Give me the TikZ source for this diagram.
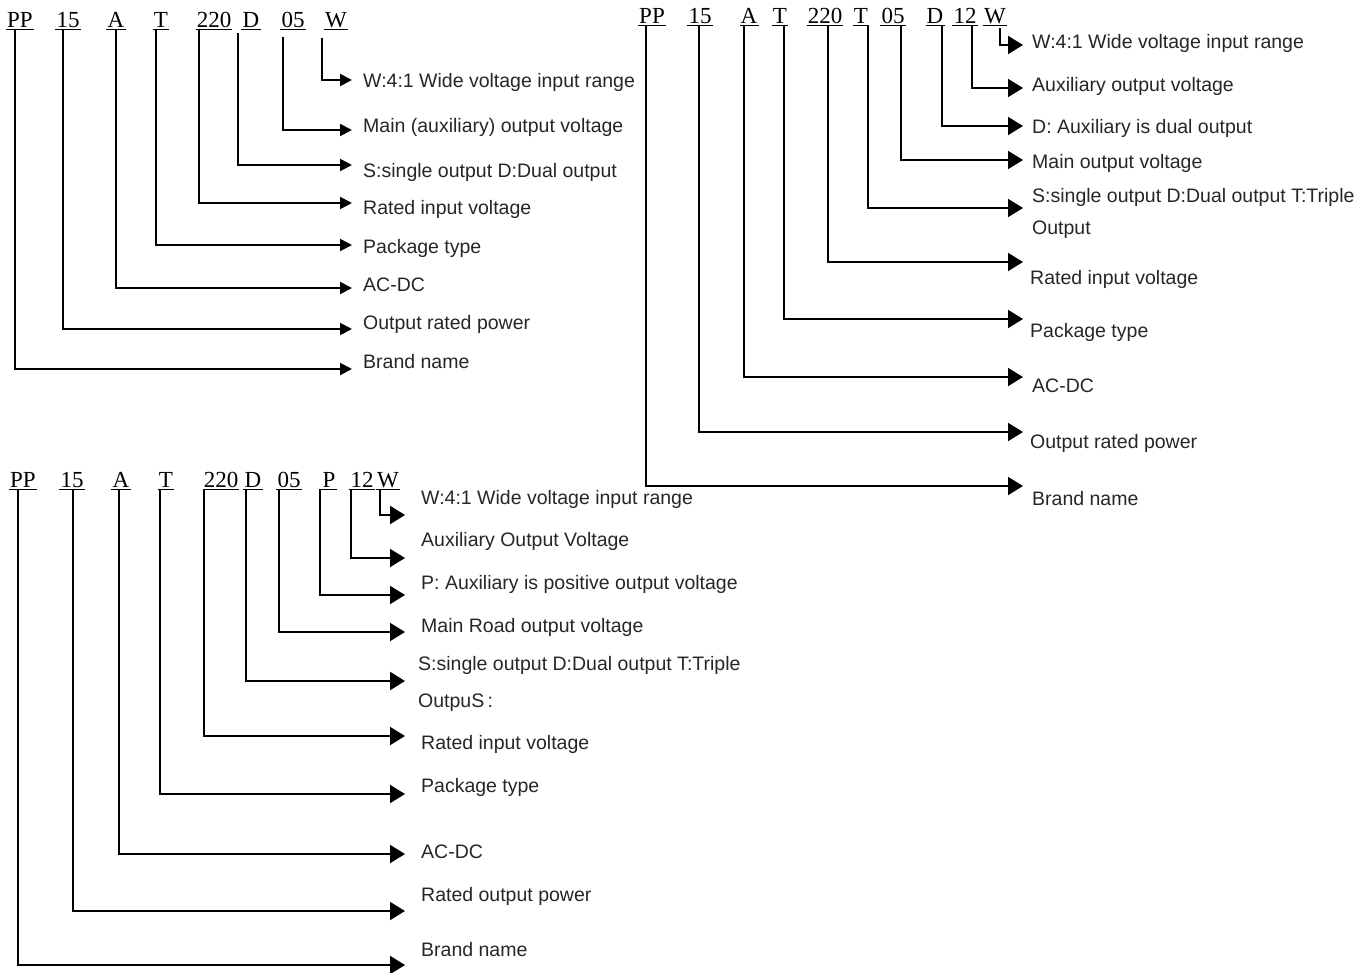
\documentclass[tikz,border=0pt]{standalone}
\usepackage{fontspec}
\setmainfont{Liberation Serif}
\newfontfamily\labelfont{Liberation Sans}
\usetikzlibrary{arrows.meta}

\tikzset{
  code/.style={font=\fontsize{23}{27}\selectfont, inner xsep=1pt, inner ysep=2pt, anchor=base,
    append after command={(\tikzlastnode.south west) edge[line width=1.3pt] (\tikzlastnode.south east)}},
  descbase/.style={font=\labelfont\fontsize{19.5}{24}\selectfont, text=black!85,
    anchor=west, inner xsep=11pt, inner ysep=1pt},
  desc/.style={descbase, text height=14pt, text depth=4pt},
  desctwo/.style={descbase, align=left},
  link/.style={line width=2pt, -{Triangle[length=12pt,width=12pt]}},
  biglink/.style={line width=2pt, -{Triangle[length=15pt,width=18pt]}},
}

\begin{document}
\begin{tikzpicture}[x=1pt,y=-1pt]
\useasboundingbox (0,0) rectangle (1372,972);

% first code: PP15AT220D05W
\node[code] (c1pp) at (20,27) {PP};
\node[code] (c1p) at (68,27) {15};
\node[code] (c1a) at (116,27) {A};
\node[code] (c1t) at (161,27) {T};
\node[code] (c1v) at (214,27) {220};
\node[code] (c1d) at (251,27) {D};
\node[code] (c1o) at (293,27) {05};
\node[code] (c1w) at (336,27) {W};

\node[desc] (l1w) at (352,82) {W:4:1 Wide voltage input range};
\node[desc] (l1o) at (352,127) {Main (auxiliary) output voltage};
\node[desc] (l1d) at (352,172) {S:single output D:Dual output};
\node[desc] (l1v) at (352,209) {Rated input voltage};
\node[desc] (l1t) at (352,248) {Package type};
\node[desc] (l1a) at (352,286) {AC-DC};
\node[desc] (l1p) at (352,324) {Output rated power};
\node[desc] (l1pp) at (352,363) {Brand name};

\draw[link] ([xshift=-14,yshift=-8]c1w.south) |- ([yshift=2]l1w.west);
\draw[link] ([xshift=-10,yshift=-8]c1o.south) |- ([yshift=-3]l1o.west);
\draw[link] ([xshift=-13,yshift=-4]c1d.south) |- ([yshift=7]l1d.west);
\draw[link] ([xshift=-15]c1v.south) |- ([yshift=6]l1v.west);
\draw[link] ([xshift=-5]c1t.south) |- ([yshift=3]l1t.west);
\draw[link] (c1a.south) |- ([yshift=-2]l1a.west);
\draw[link] ([xshift=-5]c1p.south) |- ([yshift=-5]l1p.west);
\draw[link] ([xshift=-5]c1pp.south) |- ([yshift=-6]l1pp.west);

% second code: PP15AT220T05D12W
\node[code] (c2pp) at (652,23) {PP};
\node[code] (c2p) at (700,23) {15};
\node[code] (c2a) at (749,23) {A};
\node[code] (c2t) at (780,23) {T};
\node[code] (c2v) at (825,23) {220};
\node[code] (c2s) at (861,23) {T};
\node[code] (c2o) at (893,23) {05};
\node[code] (c2d) at (935,23) {D};
\node[code] (c2x) at (965,23) {12};
\node[code] (c2w) at (995,23) {W};

\node[desc, inner xsep=9pt] (l2w) at (1023,43) {W:4:1 Wide voltage input range};
\node[desc, inner xsep=9pt] (l2x) at (1023,86) {Auxiliary output voltage};
\node[desc, inner xsep=9pt] (l2d) at (1023,128) {D: Auxiliary is dual output};
\node[desc, inner xsep=9pt] (l2o) at (1023,163) {Main output voltage};
\node[desctwo, inner xsep=9pt] (l2s) at (1023,213) {S:single output D:Dual output T:Triple\\[8pt]Output};
\node[desc, inner xsep=7pt] (l2v) at (1023,279) {Rated input voltage};
\node[desc, inner xsep=7pt] (l2t) at (1023,332) {Package type};
\node[desc, inner xsep=9pt] (l2a) at (1023,387) {AC-DC};
\node[desc, inner xsep=7pt] (l2p) at (1023,443) {Output rated power};
\node[desc, inner xsep=9pt] (l2pp) at (1023,500) {Brand name};

\draw[biglink] ([xshift=5,yshift=-2]c2w.south) |- ([yshift=-2]l2w.west);
\draw[biglink] ([xshift=7]c2x.south) |- ([yshift=-2]l2x.west);
\draw[biglink] ([xshift=7]c2d.south) |- ([yshift=2]l2d.west);
\draw[biglink] ([xshift=8]c2o.south) |- ([yshift=3]l2o.west);
\draw[biglink] ([xshift=7]c2s.south) |- ([yshift=5]l2s.west);
\draw[biglink] ([xshift=3]c2v.south) |- ([yshift=17]l2v.west);
\draw[biglink] ([xshift=4]c2t.south) |- ([yshift=13]l2t.west);
\draw[biglink] ([xshift=-5]c2a.south) |- ([yshift=10]l2a.west);
\draw[biglink] ([xshift=-1]c2p.south) |- ([yshift=11]l2p.west);
\draw[biglink] ([xshift=-6]c2pp.south) |- ([yshift=14]l2pp.west);

% third code: PP15AT220D05P12W
\node[code] (c3pp) at (23,487) {PP};
\node[code] (c3p) at (72,487) {15};
\node[code] (c3a) at (121,487) {A};
\node[code] (c3t) at (166,487) {T};
\node[code] (c3v) at (221,487) {220};
\node[code] (c3d) at (253,487) {D};
\node[code] (c3o) at (289,487) {05};
\node[code] (c3s) at (329,487) {P};
\node[code] (c3x) at (362,487) {12};
\node[code] (c3w) at (388,487) {W};

\node[desc, inner xsep=16pt] (l3w) at (405,499) {W:4:1 Wide voltage input range};
\node[desc, inner xsep=16pt] (l3x) at (405,541) {Auxiliary Output Voltage};
\node[desc, inner xsep=16pt] (l3s) at (405,584) {P: Auxiliary is positive output voltage};
\node[desc, inner xsep=16pt] (l3o) at (405,627) {Main Road output voltage};
\node[desctwo, inner xsep=13pt] (l3d) at (405,684) {S:single output D:Dual output T:Triple\\[13pt]OutpuS{\,}:};
\node[desc, inner xsep=16pt] (l3v) at (405,744) {Rated input voltage};
\node[desc, inner xsep=16pt] (l3t) at (405,787) {Package type};
\node[desc, inner xsep=16pt] (l3a) at (405,853) {AC-DC};
\node[desc, inner xsep=16pt] (l3p) at (405,896) {Rated output power};
\node[desc, inner xsep=16pt] (l3pp) at (405,951) {Brand name};

\draw[biglink, line width=2.6pt] ([xshift=-8]c3w.south) |- ([yshift=-16]l3w.west);
\draw[biglink] ([xshift=-11]c3x.south) |- ([yshift=-17]l3x.west);
\draw[biglink] ([xshift=-9]c3s.south) |- ([yshift=-11]l3s.west);
\draw[biglink] ([xshift=-10]c3o.south) |- ([yshift=-5]l3o.west);
\draw[biglink, line width=2.6pt] ([xshift=-7]c3d.south) |- ([yshift=3]l3d.west);
\draw[biglink] ([xshift=-17]c3v.south) |- ([yshift=8]l3v.west);
\draw[biglink] ([xshift=-6]c3t.south) |- ([yshift=-7]l3t.west);
\draw[biglink] ([xshift=-2]c3a.south) |- ([yshift=-1]l3a.west);
\draw[biglink] ([xshift=1]c3p.south) |- ([yshift=-15]l3p.west);
\draw[biglink] ([xshift=-5]c3pp.south) |- ([yshift=-14]l3pp.west);

\end{tikzpicture}
\end{document}
